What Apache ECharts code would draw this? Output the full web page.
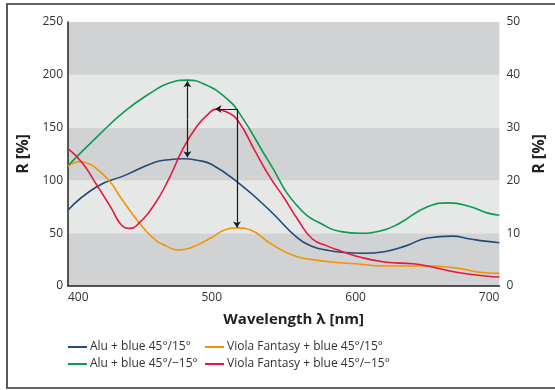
<!DOCTYPE html>
<html>
<head>
<meta charset="utf-8">
<script src="https://cdn.jsdelivr.net/npm/echarts@6/dist/echarts.min.js"></script>
<style>html,body{margin:0;padding:0;background:#fff;}#c{width:555px;height:390px;}</style>
</head>
<body>
<div id="c"></div>
<script>
// Wavelength (nm) / reflectance R (%) samples
var aluBlue15X = [400,420,440,460,470,480,490,500,520,540,560,570,580,590,605,620,635,650,667,680,690,700];
var aluBlue15Y = [72,94,105,117,119.5,120.5,119,115,96,72,45,37.5,34,32,31,32.5,38,45.5,47.2,44.5,42.5,41];
var aluBlueM15X = [400,420,440,460,470,483,495,510,520,540,560,580,590,603,617,630,650,665,680,692,700];
var aluBlueM15Y = [114,141,166,185,192,195,191,178,162,117,75,56,51.5,50,52,59,75,78.7,75,69,67];
var violaBlue15X = [400,408,415,420,430,436,450,460,468,477,486,500,509,518,527,540,550,560,570,585,600,620,650,670,690,700];
var violaBlue15Y = [113,117.6,115.5,111,97.5,85,59,44.5,38,34,36.5,46,53,55,53,41,33,27.5,25,22.5,21,19,19,17,12.5,12];
var violaBlueM15X = [400,410,420,430,437,443,449,460,470,480,490,497,503,510,518,530,540,550,560,570,580,590,600,620,640,650,670,690,700];
var violaBlueM15Y = [130,116.5,95.6,74,58,54.6,59,77,101,130,152,162,167.5,165,157,128,104,84,62.5,44.5,38,33,28.5,22.7,21,19,13,9.5,8.5];

var seriesNames = ['Alu + blue 45°/15°','Alu + blue 45°/\u221215°','Viola Fantasy + blue 45°/15°','Viola Fantasy + blue 45°/\u221215°'];
var seriesColors = ['#234a78','#0a9a50','#f29400','#e4183f'];
var xTicks = [400,500,600,700];
var leftTicks = [0,50,100,150,200,250];
var rightTicks = [0,10,20,30,40,50];
// annotation arrows (data coordinates)
var arrows = [
  [[483,158],[483,194]],
  [[483,158],[483,122]],
  [[517.5,167.5],[502.5,167.5]],
  [[517.5,167.5],[517.5,55.5]]
];

function pairs(xs, ys){ return xs.map(function(w,i){ return [w, ys[i]]; }); }
var allData = [
  pairs(aluBlue15X, aluBlue15Y),
  pairs(aluBlueM15X, aluBlueM15Y),
  pairs(violaBlue15X, violaBlue15Y),
  pairs(violaBlueM15X, violaBlueM15Y)
];
var FONT = 'Open Sans';

var series = allData.map(function(d,i){
  return {
    name: seriesNames[i], type:'line', data: d, smooth: 0.5, symbol:'none',
    lineStyle:{color:seriesColors[i], width:1.6}, itemStyle:{color:seriesColors[i]}, z:3
  };
});
series.push({
  type:'lines', coordinateSystem:'cartesian2d', silent:true, z:5,
  symbol:['none','arrow'], symbolSize:6,
  lineStyle:{color:'#1a1a1a', width:1.2, opacity:1},
  data: arrows.map(function(a){ return {coords:a}; })
});

var legendPos = [[68,341],[68,358],[205,341],[205,358]];
var legends = seriesNames.map(function(n,i){
  return {
    data:[n], left:legendPos[i][0], top:legendPos[i][1], padding:0,
    icon:'rect', itemWidth:19, itemHeight:2, itemGap:0,
    textStyle:{fontFamily:FONT, fontSize:12, color:'#333', padding:[0,0,0,-2]}
  };
});

var chart = echarts.init(document.getElementById('c'), null, {renderer:'canvas'});
chart.setOption({
  animation:false,
  backgroundColor:'#fff',
  grid:{left:68, right:53, top:22, bottom:104},
  legend: legends,
  xAxis:{
    type:'value', min:xTicks[0], max:xTicks[xTicks.length-1], interval:100,
    name:'Wavelength \u03bb [nm]', nameLocation:'middle', nameGap:26,
    nameTextStyle:{fontFamily:FONT, fontSize:15, fontWeight:'bold', color:'#222', padding:[0,0,0,20]},
    axisLine:{show:true, lineStyle:{color:'#222', width:1.5}},
    axisTick:{show:false}, splitLine:{show:false},
    axisLabel:{fontFamily:FONT, fontSize:12, color:'#333', margin:6, alignMinLabel:'left', alignMaxLabel:'right'}
  },
  yAxis:[{
    type:'value', min:leftTicks[0], max:leftTicks[leftTicks.length-1], interval:50, position:'left',
    name:'R [%]', nameLocation:'middle', nameGap:30, nameRotate:90,
    nameTextStyle:{fontFamily:FONT, fontSize:16, fontWeight:'bold', color:'#222'},
    axisLine:{show:true, lineStyle:{color:'#222', width:1.5}},
    axisTick:{show:false}, splitLine:{show:false},
    splitArea:{show:true, areaStyle:{color:['#d1d2d4','#e6e7e7']}},
    axisLabel:{fontFamily:FONT, fontSize:12, color:'#333', margin:5}
  },{
    type:'value', min:rightTicks[0], max:rightTicks[rightTicks.length-1], interval:10, position:'right',
    name:'R [%]', nameLocation:'middle', nameGap:30, nameRotate:90,
    nameTextStyle:{fontFamily:FONT, fontSize:16, fontWeight:'bold', color:'#222'},
    axisLine:{show:false}, axisTick:{show:false}, splitLine:{show:false}, splitArea:{show:false},
    axisLabel:{fontFamily:FONT, fontSize:12, color:'#333', margin:7}
  }],
  graphic:[{
    type:'rect', shape:{x:7, y:4, width:620, height:384}, silent:true, z:10,
    style:{fill:'none', stroke:'#333', lineWidth:1.6}
  }],
  series: series
});
</script>
</body>
</html>
